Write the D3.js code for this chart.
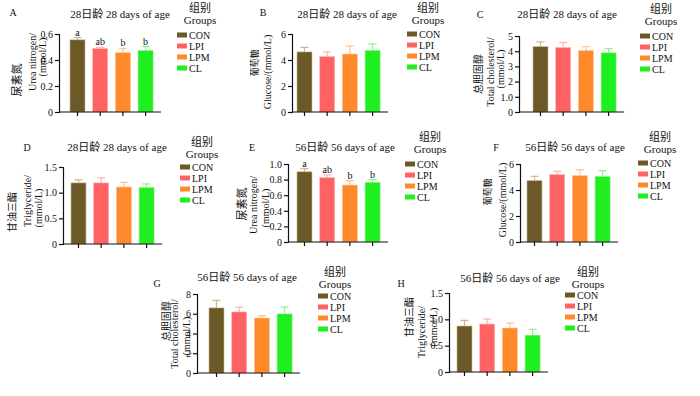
<!DOCTYPE html>
<html>
<head>
<meta charset="utf-8">
<script src="https://cdn.jsdelivr.net/npm/d3@7"></script>
<style>
body { margin: 0; background: #fff; }
svg text { font-family: "Liberation Serif", "Noto Sans CJK SC", serif; fill: #111; }
</style>
</head>
<body>
<svg id="chart" width="700" height="396"></svg>
<script>
// groups and series
let groups = ["CON", "LPI", "LPM", "CL"];
let letters = ["a", "ab", "b", "b"];

let ureaN28 = [0.555, 0.488, 0.456, 0.473];
let ureaN28Err = [0.018, 0.010, 0.034, 0.030];
let glucose28 = [4.62, 4.26, 4.46, 4.74];
let glucose28Err = [0.35, 0.36, 0.62, 0.49];
let chol28 = [4.30, 4.24, 4.04, 3.89];
let chol28Err = [0.31, 0.33, 0.26, 0.28];
let tg28 = [1.19, 1.19, 1.11, 1.10];
let tg28Err = [0.06, 0.10, 0.09, 0.07];

let ureaN56 = [0.90, 0.826, 0.73, 0.766];
let ureaN56Err = [0.04, 0.034, 0.057, 0.034];
let glucose56 = [4.72, 5.18, 5.10, 5.03];
let glucose56Err = [0.33, 0.26, 0.46, 0.46];
let chol56 = [6.59, 6.18, 5.57, 5.98];
let chol56Err = [0.77, 0.48, 0.24, 0.71];
let tg56 = [0.873, 0.91, 0.835, 0.70];
let tg56Err = [0.107, 0.096, 0.095, 0.11];

let title28 = "28日龄 28 days of age";
let title56 = "56日龄 56 days of age";
let legendTitle = ["组别", "Groups"];

let ticksUrea28 = [0, 0.2, 0.4, 0.6];
let ticksGlu = [0, 2, 4, 6];
let ticksChol28 = [0, 1, 2, 3, 4, 5];
let ticksTg = [0, 0.5, 1.0, 1.5];
let ticksUrea56 = [0, 0.2, 0.4, 0.6, 0.8, 1.0];
let ticksChol56 = [0, 2, 4, 6, 8];

let fills = ["#6b5a27", "#ff6262", "#ff8a2c", "#1fee1f"];
let errColors = ["#c9b98c", "#ffb1b1", "#ffc28e", "#8ff28f"];

let panels = [
	{id: "A", title: title28, vals: ureaN28, err: ureaN28Err, ticks: ticksUrea28, sig: letters,
	 ax: 59, y0: 112, y1: 34, bx: 70, tx: 120, ty: 14, lx: 13, ly: 12, gx: 177, gy: 35, gtx: 200, gty: 8,
	 ylab: [["尿素氮", 17, 80, 11], ["Urea nitrogen/", 32, 62, 10], ["(mmol/L)", 42, 57, 10]]},
	{id: "B", title: title28, vals: glucose28, err: glucose28Err, ticks: ticksGlu,
	 ax: 292, y0: 112, y1: 34, bx: 297, tx: 347, ty: 14, lx: 263, ly: 12, gx: 407, gy: 34, gtx: 428, gty: 8,
	 ylab: [["葡萄糖", 255, 63, 9], ["Glucose/(mmol/L)", 267, 72, 10]]},
	{id: "C", title: title28, vals: chol28, err: chol28Err, ticks: ticksChol28,
	 ax: 519, y0: 112, y1: 36, bx: 533, tx: 567, ty: 14, lx: 480, ly: 14, gx: 640, gy: 36, gtx: 661, gty: 9,
	 ylab: [["总胆固醇", 478, 74, 10], ["Total cholesterol/", 490, 72, 10], ["(mmol/L)", 500, 69, 10]]},
	{id: "D", title: title28, vals: tg28, err: tg28Err, ticks: ticksTg,
	 ax: 63, y0: 244, y1: 167, bx: 71, tx: 117, ty: 147, lx: 27, ly: 147, gx: 180, gy: 167, gtx: 202, gty: 142,
	 ylab: [["甘油三酯", 12, 212, 10], ["Triglyceride/", 27, 201, 10], ["(mmol/L)", 38, 208, 10]]},
	{id: "E", title: title56, vals: ureaN56, err: ureaN56Err, ticks: ticksUrea56, sig: letters,
	 ax: 288, y0: 242, y1: 164, bx: 297, tx: 345, ty: 147, lx: 252, ly: 147, gx: 405, gy: 164, gtx: 430, gty: 137,
	 ylab: [["尿素氮", 242, 204, 11], ["Urea nitrogen/", 253, 205, 10], ["(mmol/L)", 265, 208, 10]]},
	{id: "F", title: title56, vals: glucose56, err: glucose56Err, ticks: ticksGlu,
	 ax: 520, y0: 242, y1: 164, bx: 527, tx: 575, ty: 147, lx: 496, ly: 147, gx: 638, gy: 163, gtx: 660, gty: 137,
	 ylab: [["葡萄糖", 488, 192, 9], ["Glucose/(mmol/L)", 502, 200, 10]]},
	{id: "G", title: title56, vals: chol56, err: chol56Err, ticks: ticksChol56,
	 ax: 197, y0: 373, y1: 294, bx: 209, tx: 247, ty: 277, lx: 157, ly: 283, gx: 318, gy: 296, gtx: 335, gty: 272,
	 ylab: [["总胆固醇", 166, 321, 10], ["Total cholesterol/", 174, 334, 10], ["(mmol/L)", 186, 336, 10]]},
	{id: "H", title: title56, vals: tg56, err: tg56Err, ticks: ticksTg,
	 ax: 449, y0: 372, y1: 293, bx: 457, tx: 510, ty: 278, lx: 401, ly: 283, gx: 565, gy: 295, gtx: 588, gty: 272,
	 ylab: [["甘油三酯", 409, 317, 10], ["Triglyceride/", 421, 332, 10], ["(mmol/L)", 433, 327, 10]]}
];

let svg = d3.select("#chart");
let step = 22.7, barW = 15;

let fmt = (d) => d == 0 ? "0" : (Number.isInteger(d) && d > 1.5 ? String(d) : d3.format(".1f")(d));

let drawPanel = function(p) {
	let g = svg.append("g");
	let r0 = p.bx - step * 0.17;
	let x = d3.scaleBand()
		.domain(groups)
		.range([r0, r0 + 4 * step])
		.paddingInner(1 - barW / step)
		.paddingOuter((1 - barW / step) / 2);
	let y = d3.scaleLinear()
		.domain([0, p.ticks[p.ticks.length - 1]])
		.range([p.y0, p.y1]);

	// y axis
	let yAxis = d3.axisLeft(y).tickValues(p.ticks).tickFormat(fmt).tickSize(4).tickPadding(2);
	g.append("g")
		.attr("transform", "translate(" + p.ax + ",0)")
		.call(yAxis)
		.attr("font-family", null)
		.call(s => s.selectAll("text").style("font-size", "10px"))
		.call(s => s.selectAll("path,line").attr("stroke", "#111").attr("stroke-width", 1.2));

	// bars
	let data = groups.map((k, i) => ({k: k, v: p.vals[i], e: p.err[i], i: i}));
	g.selectAll("rect.bar").data(data).enter().append("rect")
		.attr("x", d => x(d.k))
		.attr("y", d => y(d.v))
		.attr("width", x.bandwidth())
		.attr("height", d => y(0) - y(d.v))
		.style("fill", d => fills[d.i])
		.style("stroke", d => errColors[d.i])
		.style("stroke-width", 0.6);

	// error bars
	let eb = g.selectAll("g.err").data(data).enter().append("g");
	eb.append("line")
		.attr("x1", d => x(d.k) + x.bandwidth() / 2)
		.attr("x2", d => x(d.k) + x.bandwidth() / 2)
		.attr("y1", d => y(d.v))
		.attr("y2", d => y(d.v + d.e))
		.attr("stroke", d => errColors[d.i]).attr("stroke-width", 1.2);
	eb.append("line")
		.attr("x1", d => x(d.k) + x.bandwidth() / 2 - 4)
		.attr("x2", d => x(d.k) + x.bandwidth() / 2 + 4)
		.attr("y1", d => y(d.v + d.e))
		.attr("y2", d => y(d.v + d.e))
		.attr("stroke", d => errColors[d.i]).attr("stroke-width", 1.2);

	if (p.sig) {
		g.selectAll("text.sig").data(data).enter().append("text")
			.attr("x", d => x(d.k) + x.bandwidth() / 2)
			.attr("y", d => y(d.v + d.e) - 2)
			.attr("text-anchor", "middle")
			.style("font-size", "10px")
			.text(d => p.sig[d.i]);
	}

	// x axis
	let xEnd = x(groups[3]) + x.bandwidth() + 8;
	g.append("line")
		.attr("x1", p.ax).attr("x2", xEnd)
		.attr("y1", p.y0).attr("y2", p.y0)
		.attr("stroke", "#111").attr("stroke-width", 1.2);
	g.selectAll("line.xt").data(groups).enter().append("line")
		.attr("x1", d => x(d) + x.bandwidth() / 2)
		.attr("x2", d => x(d) + x.bandwidth() / 2)
		.attr("y1", p.y0).attr("y2", p.y0 + 4)
		.attr("stroke", "#111").attr("stroke-width", 1.2);

	// title and panel letter
	g.append("text").attr("x", p.tx).attr("y", p.ty).attr("dy", "0.35em")
		.attr("text-anchor", "middle").style("font-size", "11px").text(p.title);
	g.append("text").attr("x", p.lx).attr("y", p.ly).attr("dy", "0.35em")
		.attr("text-anchor", "middle").style("font-size", "10px").text(p.id);

	// y label
	p.ylab.forEach(function(l) {
		g.append("text")
			.attr("transform", "translate(" + l[1] + "," + l[2] + ") rotate(-90)")
			.attr("text-anchor", "middle")
			.attr("dy", "0.35em")
			.style("font-size", l[3] + "px")
			.text(l[0]);
	});

	// legend
	g.append("text").attr("x", p.gtx).attr("y", p.gty).attr("dy", "0.35em")
		.attr("text-anchor", "middle").style("font-size", "11px").text(legendTitle[0]);
	g.append("text").attr("x", p.gtx).attr("y", p.gty + 12).attr("dy", "0.35em")
		.attr("text-anchor", "middle").style("font-size", "11px").text(legendTitle[1]);
	let leg = g.selectAll("g.leg").data(groups).enter().append("g")
		.attr("transform", (d, i) => "translate(" + p.gx + "," + (p.gy + i * 11) + ")");
	leg.append("rect").attr("x", 0).attr("y", -2.5).attr("width", 10).attr("height", 5)
		.style("fill", (d, i) => fills[i]);
	leg.append("text").attr("x", 12).attr("y", 0).attr("dy", "0.35em")
		.style("font-size", "10px").text(d => d);
};

panels.forEach(drawPanel);
</script>
</body>
</html>
